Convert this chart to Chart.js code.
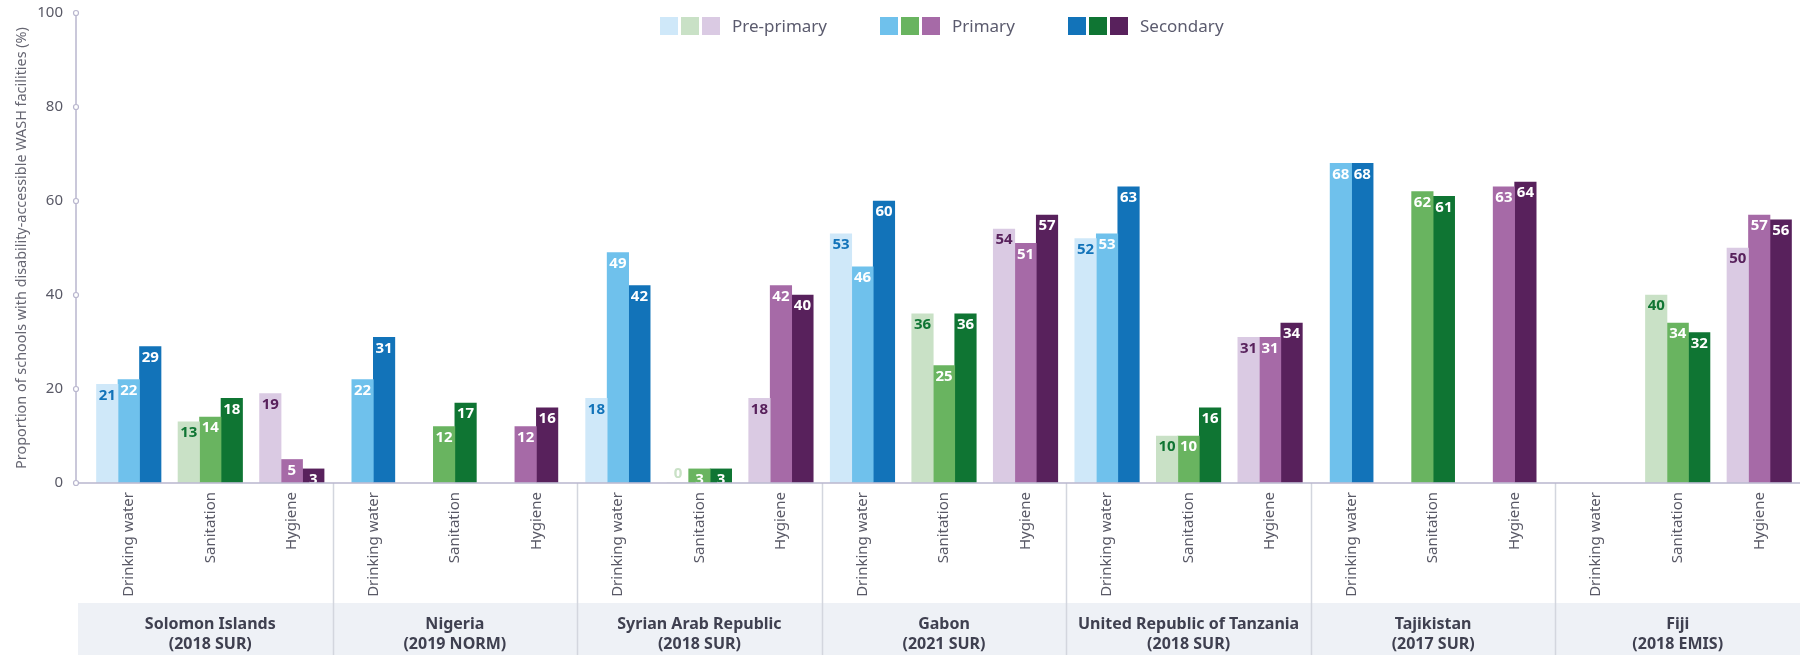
<!DOCTYPE html>
<html>
<head>
<meta charset="utf-8">
<script src="https://cdn.jsdelivr.net/npm/chart.js@4.4.1/dist/chart.umd.min.js"></script>
<style>
  body { margin: 0; background: #fff; font-family: "Noto Sans", sans-serif; }
  #wrap { position: relative; width: 1800px; height: 655px; }
  .legend-group { position: absolute; top: 17px; display: flex; align-items: center; }
  .legend-group span.box { width: 18px; height: 18px; margin-right: 3px; display: inline-block; }
  .legend-group span.txt { margin-left: 9px; font-size: 17px; color: #5b5b6e; line-height: 18px; }
</style>
</head>
<body>
<div id="wrap">
  <canvas id="chart" width="1800" height="655"></canvas>
  <div class="legend-group" style="left:660px">
    <span class="box" style="background:#cfe8f9"></span><span class="box" style="background:#c9e1c6"></span><span class="box" style="background:#dacae3"></span><span class="txt">Pre-primary</span>
  </div>
  <div class="legend-group" style="left:880px">
    <span class="box" style="background:#6fc1ec"></span><span class="box" style="background:#69b460"></span><span class="box" style="background:#a66aa7"></span><span class="txt">Primary</span>
  </div>
  <div class="legend-group" style="left:1068px">
    <span class="box" style="background:#1273b9"></span><span class="box" style="background:#0f7533"></span><span class="box" style="background:#58215c"></span><span class="txt">Secondary</span>
  </div>
</div>
<script>
const services = ['Drinking water', 'Sanitation', 'Hygiene'];
const countries = [
  ['Solomon Islands', '(2018 SUR)'],
  ['Nigeria', '(2019 NORM)'],
  ['Syrian Arab Republic', '(2018 SUR)'],
  ['Gabon', '(2021 SUR)'],
  ['United Republic of Tanzania', '(2018 SUR)'],
  ['Tajikistan', '(2017 SUR)'],
  ['Fiji', '(2018 EMIS)'],
];
const categories = countries.flatMap(() => services);

const prePrimary = [21, 13, 19, null, null, null, 18, 0, 18, 53, 36, 54, 52, 10, 31, null, null, null, null, 40, 50];
const primary    = [22, 14, 5, 22, 12, 12, 49, 3, 42, 46, 25, 51, 53, 10, 31, 68, 62, 63, null, 34, 57];
const secondary  = [29, 18, 3, 31, 17, 16, 42, 3, 40, 60, 36, 57, 63, 16, 34, 68, 61, 64, null, 32, 56];

const yTicks = [0, 20, 40, 60, 80, 100];

// one colour per service (water, sanitation, hygiene) for each level
const preColors = ['#cfe8f9', '#c9e1c6', '#dacae3'];
const primColors = ['#6fc1ec', '#69b460', '#a66aa7'];
const secColors = ['#1273b9', '#0f7533', '#58215c'];

const axisColor = '#b9b6ce';
const axisGap = 12;

const valueLabels = {
  id: 'valueLabels',
  afterDatasetsDraw(chart) {
    const {ctx} = chart;
    ctx.save();
    ctx.font = 'bold 15px "Noto Sans", sans-serif';
    ctx.textAlign = 'center';
    ctx.textBaseline = 'middle';
    chart.data.datasets.forEach((ds, di) => {
      chart.getDatasetMeta(di).data.forEach((bar, i) => {
        const v = ds.data[i];
        if (v === null) return;
        const kind = i % 3;
        if (di === 0) ctx.fillStyle = v === 0 ? preColors[kind] : secColors[kind];
        else ctx.fillStyle = '#ffffff';
        ctx.fillText(String(v), bar.x, v === 0 ? bar.y - 9 : bar.y + 11);
      });
    });
    ctx.restore();
  }
};

const frame = {
  id: 'frame',
  beforeDraw(chart) {
    const {ctx, chartArea, scales} = chart;
    const x2 = scales.x2;
    ctx.save();
    ctx.fillStyle = '#eef1f6';
    ctx.fillRect(chartArea.left - axisGap + 2, x2.top, chartArea.right - chartArea.left + axisGap, x2.bottom - x2.top);
    ctx.restore();
  },
  afterDraw(chart) {
    const {ctx, chartArea, scales} = chart;
    const x = scales.x, y = scales.y;
    const ax = chartArea.left - axisGap;
    ctx.save();
    // group separators
    ctx.strokeStyle = '#d3d6de';
    ctx.lineWidth = 1.5;
    for (let g = 1; g < countries.length; g++) {
      const i = g * services.length;
      const sx = Math.round((x.getPixelForValue(i - 1) + x.getPixelForValue(i)) / 2) + 0.5;
      ctx.beginPath();
      ctx.moveTo(sx, chartArea.bottom);
      ctx.lineTo(sx, chart.height);
      ctx.stroke();
    }
    // axes
    ctx.strokeStyle = axisColor;
    ctx.lineWidth = 1.5;
    ctx.beginPath();
    ctx.moveTo(ax, y.getPixelForValue(100));
    ctx.lineTo(ax, chartArea.bottom);
    ctx.lineTo(chartArea.right, chartArea.bottom);
    ctx.stroke();
    ctx.fillStyle = '#ffffff';
    ctx.lineWidth = 1.2;
    yTicks.forEach(t => {
      ctx.beginPath();
      ctx.arc(ax, y.getPixelForValue(t), 2.5, 0, Math.PI * 2);
      ctx.fill();
      ctx.stroke();
    });
    ctx.restore();
  }
};

function barSet(label, data, colors) {
  return {
    label,
    data,
    backgroundColor: c => colors[c.dataIndex % 3],
    borderWidth: 0,
    barThickness: 21.5,
    skipNull: true,
  };
}

new Chart(document.getElementById('chart'), {
  type: 'bar',
  data: {
    labels: categories,
    datasets: [
      barSet('Pre-primary', prePrimary, preColors),
      barSet('Primary', primary, primColors),
      barSet('Secondary', secondary, secColors),
    ],
  },
  options: {
    responsive: false,
    animation: false,
    devicePixelRatio: 1,
    layout: { padding: { top: 13, right: 0, left: 0, bottom: 0 } },
    plugins: { legend: { display: false }, tooltip: { enabled: false } },
    scales: {
      y: {
        min: 0,
        max: 100,
        afterFit: s => { s.width = 88; },
        afterBuildTicks: s => { s.ticks = yTicks.map(v => ({ value: v })); },
        grid: { display: true, drawOnChartArea: false, drawTicks: true, tickLength: 22, tickColor: 'rgba(0,0,0,0)' },
        border: { display: false },
        ticks: { padding: 3, color: '#595966', font: { family: 'Noto Sans', size: 15 } },
        title: {
          display: true,
          text: 'Proportion of schools with disability-accessible WASH facilities (%)',
          color: '#666672',
          font: { family: 'Noto Sans', size: 14.4 },
          padding: { top: 13, bottom: 0 },
        },
      },
      x: {
        afterFit: s => { s.height = 120; },
        grid: { display: false },
        border: { display: false },
        ticks: {
          autoSkip: false,
          minRotation: 90,
          maxRotation: 90,
          padding: 1,
          color: '#595966',
          font: { family: 'Noto Sans', size: 15 },
        },
      },
      x2: {
        type: 'category',
        position: 'bottom',
        labels: countries,
        offset: true,
        afterFit: s => { s.height = 52; },
        grid: { display: false },
        border: { display: false },
        ticks: {
          autoSkip: false,
          maxRotation: 0,
          padding: 3,
          color: '#3f4050',
          font: { family: 'Noto Sans', size: 16, weight: 'bold', lineHeight: 1.25 },
        },
      },
    },
  },
  plugins: [frame, valueLabels],
});
</script>
</body>
</html>
